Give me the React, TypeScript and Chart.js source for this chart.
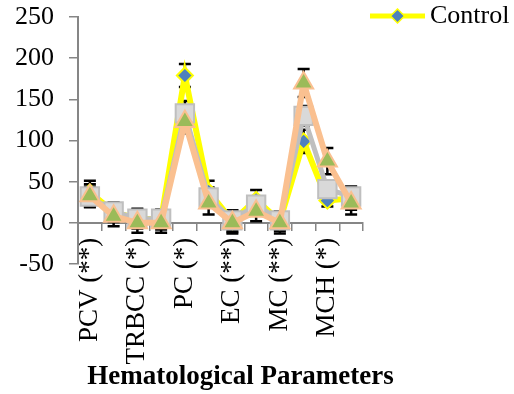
import React, { useEffect, useRef } from 'react';
import { Chart, registerables } from 'chart.js';

Chart.register(...registerables);

// ---- data ----
const CATEGORIES = [
  'PCV (**)', 'Hb (*)', 'TRBCC (*)', 'TWBCC (*)', 'PC (*)', 'LC (*)',
  'EC (**)', 'NC (*)', 'MC (**)', 'MCV (*)', 'MCH (*)', 'MCHC (*)',
];
const SERIES_NAMES = ['Control', 'Group 2', 'Group 3'];
const CONTROL = [37, 13, 5, 4, 179, 38, 2, 28, 2, 99, 27, 30];
const CONTROL_ERR = [14, 12, 12, 12, 14, 13, 13, 12, 12, 14, 7, 14];
const GROUP2 = [32, 14, 5, 5, 133, 31, 3, 22, 3, 130, 41, 32];
const GROUP2_ERR = [12, 10, 11, 11, 15, 12, 12, 10, 11, 12, 10, 12];
const GROUP3 = [33, 8, 0, 0, 123, 24, 0, 14, 0, 170, 75, 24];
const GROUP3_ERR = [14, 12, 12, 12, 14, 14, 13, 12, 13, 17, 16, 14];
const Y_MIN = -50;
const Y_MAX = 250;
const Y_STEP = 50;
const X_TITLE = 'Hematological Parameters';

const FONT = '"Liberation Serif", "Times New Roman", serif';
const AXIS_COLOR = '#868686';
const ERRORS = [CONTROL_ERR, GROUP2_ERR, GROUP3_ERR];

function makeLegendIcon(): HTMLCanvasElement {
  const c = document.createElement('canvas');
  c.width = 67;
  c.height = 16;
  const g = c.getContext('2d')!;
  g.strokeStyle = '#FFFF00';
  g.lineWidth = 5;
  g.beginPath();
  g.moveTo(12, 8);
  g.lineTo(67, 8);
  g.stroke();
  g.beginPath();
  g.moveTo(39.5, 1);
  g.lineTo(46.5, 8);
  g.lineTo(39.5, 15);
  g.lineTo(32.5, 8);
  g.closePath();
  g.fillStyle = '#4F81BD';
  g.fill();
  g.strokeStyle = '#FFFF00';
  g.lineWidth = 1.5;
  g.stroke();
  return c;
}

const errorBarPlugin = {
  id: 'errorBars',
  beforeDatasetsDraw(chart: any) {
    const { ctx } = chart;
    const x = chart.scales.x;
    const y = chart.scales.y;
    ctx.save();
    ctx.strokeStyle = '#000000';
    ctx.lineWidth = 2.5;
    chart.data.datasets.forEach((ds: any, di: number) => {
      const errs = ERRORS[di];
      ds.data.forEach((v: number, i: number) => {
        const e = errs[i];
        const px = x.getPixelForValue(i);
        const yt = y.getPixelForValue(v + e);
        const yb = y.getPixelForValue(v - e);
        const cap = 6;
        ctx.beginPath();
        ctx.moveTo(px, yt);
        ctx.lineTo(px, yb);
        ctx.moveTo(px - cap, yt);
        ctx.lineTo(px + cap, yt);
        ctx.moveTo(px - cap, yb);
        ctx.lineTo(px + cap, yb);
        ctx.stroke();
      });
    });
    ctx.restore();
  },
};

const axisTitlePlugin = {
  id: 'axisTitle',
  afterDraw(chart: any) {
    const { ctx, chartArea } = chart;
    ctx.save();
    ctx.font = 'bold 27px ' + FONT;
    ctx.fillStyle = '#000000';
    ctx.textAlign = 'center';
    ctx.textBaseline = 'middle';
    ctx.fillText(X_TITLE, (chartArea.left + chartArea.right) / 2 + 20, 377);
    ctx.restore();
  },
};

export default function App() {
  const ref = useRef<HTMLCanvasElement | null>(null);

  useEffect(() => {
    document.body.style.margin = '0';
    if (!ref.current) return;
    const icon = makeLegendIcon();
    const chart = new Chart(ref.current, {
      type: 'line',
      data: {
        labels: CATEGORIES,
        datasets: [
          {
            label: SERIES_NAMES[0],
            data: CONTROL,
            order: 3,
            borderColor: '#FFFF00',
            borderWidth: 6,
            pointStyle: 'rectRot',
            pointRadius: 8,
            pointBackgroundColor: '#4F81BD',
            pointBorderColor: '#FFFF00',
            pointBorderWidth: 2,
            tension: 0,
          },
          {
            label: SERIES_NAMES[1],
            data: GROUP2,
            order: 2,
            borderColor: '#BFBFBF',
            borderWidth: 5,
            pointStyle: 'rect',
            pointRadius: 13,
            pointBackgroundColor: '#D9D9D9',
            pointBorderColor: '#BFBFBF',
            pointBorderWidth: 2,
            tension: 0,
          },
          {
            label: SERIES_NAMES[2],
            data: GROUP3,
            order: 1,
            borderColor: '#FAC090',
            borderWidth: 6,
            pointStyle: 'triangle',
            pointRadius: 11,
            pointBackgroundColor: '#9BBB59',
            pointBorderColor: '#FAC090',
            pointBorderWidth: 2,
            tension: 0,
          },
        ],
      },
      options: {
        animation: false,
        responsive: true,
        maintainAspectRatio: false,
        layout: { padding: { top: 0, right: 0, bottom: 130, left: 0 } },
        plugins: {
          tooltip: { enabled: false },
          title: { display: false },
          legend: {
            position: 'right',
            align: 'start',
            maxWidth: 151,
            labels: {
              filter: (item: any) => item.datasetIndex === 0,
              usePointStyle: true,
              pointStyle: icon as any,
              pointStyleWidth: 51,
              padding: 3,
              color: '#000000',
              font: { family: FONT, size: 26 },
            },
          },
        },
        scales: {
          x: {
            type: 'category',
            position: { y: 0 } as any,
            offset: true,
            grid: {
              display: true,
              offset: true,
              drawOnChartArea: false,
              drawTicks: true,
              tickLength: 7,
              color: AXIS_COLOR,
              lineWidth: 1.5,
            },
            border: { display: true, color: AXIS_COLOR, width: 2 },
            ticks: {
              autoSkip: false,
              minRotation: 90,
              maxRotation: 90,
              padding: 8,
              color: '#000000',
              font: { family: FONT, size: 27 },
              callback: (_v: any, i: number) => (i % 2 === 0 ? CATEGORIES[i] : ''),
            },
          },
          y: {
            min: Y_MIN,
            max: Y_MAX,
            grid: {
              display: true,
              drawOnChartArea: false,
              drawTicks: true,
              tickLength: 9,
              color: AXIS_COLOR,
              lineWidth: 1.5,
            },
            border: { display: true, color: AXIS_COLOR, width: 2 },
            ticks: {
              stepSize: Y_STEP,
              padding: 15,
              color: '#000000',
              font: { family: FONT, size: 26, lineHeight: 0.16 },
            },
          },
        },
      },
      plugins: [errorBarPlugin, axisTitlePlugin],
    });
    return () => chart.destroy();
  }, []);

  return (
    <div style={{ position: 'absolute', left: 0, top: 0, width: 514, height: 394 }}>
      <canvas ref={ref} />
    </div>
  );
}
